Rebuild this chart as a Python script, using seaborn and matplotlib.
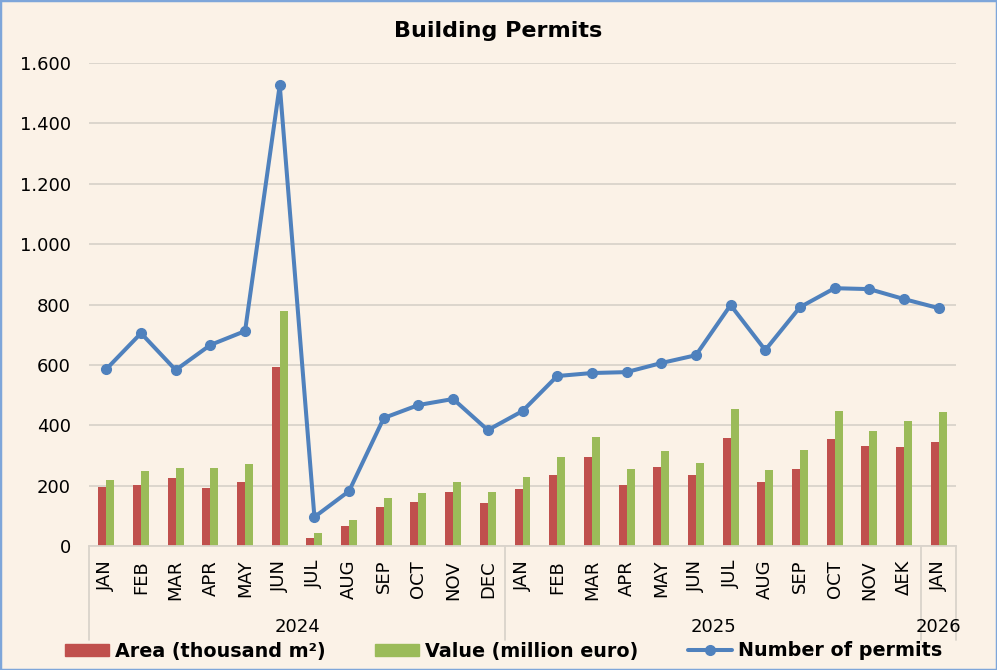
import numpy as np
import pandas as pd
import seaborn as sns
import matplotlib.pyplot as plt
from matplotlib.patches import Patch
from matplotlib.lines import Line2D
import matplotlib.transforms as mtransforms

months = ['JAN', 'FEB', 'MAR', 'APR', 'MAY', 'JUN', 'JUL', 'AUG', 'SEP', 'OCT', 'NOV', 'DEC',
          'JAN', 'FEB', 'MAR', 'APR', 'MAY', 'JUN', 'JUL', 'AUG', 'SEP', 'OCT', 'NOV', 'ΔΕΚ',
          'JAN']
years = ['2024'] * 12 + ['2025'] * 12 + ['2026']

area = [196, 202, 226, 193, 212, 594, 27, 67, 130, 146, 180, 143,
        189, 236, 296, 202, 263, 235, 358, 212, 256, 355, 332, 329, 344]
value = [218, 248, 259, 259, 272, 778, 44, 86, 160, 175, 212, 179,
         228, 296, 361, 256, 315, 275, 455, 252, 318, 448, 382, 415, 445]
permits = [586, 705, 583, 666, 712, 1527, 96, 182, 424, 467, 487, 384,
           447, 563, 573, 576, 606, 632, 798, 649, 791, 854, 851, 818, 788]

AREA_LABEL = 'Area (thousand m²)'
VALUE_LABEL = 'Value (million euro)'
LINE_LABEL = 'Number of permits'

BG = '#FBF2E7'
RED = '#C0504D'
GREEN = '#9BBB59'
BLUE = '#4F81BD'
GRID = '#D9D3CB'

keys = [f'{y}-{i:02d}-{m}' for i, (y, m) in enumerate(zip(years, months))]
df = pd.DataFrame({
    'period': keys * 2,
    'amount': area + value,
    'series': [AREA_LABEL] * len(keys) + [VALUE_LABEL] * len(keys),
})

sns.set_theme(style='white')
plt.rcParams['font.family'] = ['DejaVu Sans']
plt.rcParams['text.color'] = 'black'
plt.rcParams['xtick.color'] = 'black'
plt.rcParams['ytick.color'] = 'black'

fig = plt.figure(figsize=(9.97, 6.70), dpi=100, facecolor=BG)
ax = fig.add_axes([89 / 997, 1 - 546 / 670, (956 - 89) / 997, (546 - 63) / 670])
ax.set_facecolor(BG)

sns.barplot(data=df, x='period', y='amount', hue='series', order=keys,
            palette=[RED, GREEN], width=0.46, saturation=1, linewidth=0,
            ax=ax, legend=False)
ax.plot(np.arange(len(keys)), permits, color=BLUE, lw=2.9, marker='o', ms=7, zorder=5)

ax.set_xlim(-0.5, len(keys) - 0.5)
ax.set_ylim(0, 1600)
ax.set_yticks(np.arange(0, 1601, 200))
ax.set_yticklabels([f'{v:,}'.replace(',', '.') for v in range(0, 1601, 200)], fontsize=13)
ax.yaxis.grid(True, color=GRID, lw=1.3)
ax.set_axisbelow(True)
ax.tick_params(axis='y', length=0, pad=13)
ax.tick_params(axis='x', length=0, pad=10)
ax.set_xticks(np.arange(len(keys)))
ax.set_xticklabels(months, rotation=90, fontsize=13)
ax.set_xlabel('')
ax.set_ylabel('')
for side in ['left', 'right', 'top']:
    ax.spines[side].set_visible(False)
ax.spines['bottom'].set_color(GRID)
ax.spines['bottom'].set_linewidth(1.3)

# group separators and year labels below the axis
trans = mtransforms.blended_transform_factory(ax.transData, ax.transAxes)
depth = -(640 - 546) / (546 - 63)
for xs in [-0.5, 11.5, 23.5, 24.5]:
    ax.plot([xs, xs], [0, depth], color=GRID, lw=1.3, transform=trans, clip_on=False)
year_pos = {'2024': 5.5, '2025': 17.5, '2026': 24}
for yr, xp in year_pos.items():
    ax.text(xp, -(627 - 546) / (546 - 63), yr, transform=trans, ha='center', va='center',
            fontsize=13)

fig.text(0.5, 1 - 31 / 670, 'Building Permits', ha='center', va='center',
         fontsize=16, fontweight='bold')

handles = [Patch(color=RED), Patch(color=GREEN),
           Line2D([], [], color=BLUE, lw=2.9, marker='o', ms=7)]
fig.legend(handles, [AREA_LABEL, VALUE_LABEL, LINE_LABEL], loc='center',
           bbox_to_anchor=(0.505, 1 - 651 / 670), ncol=3, frameon=False,
           prop={'weight': 'bold', 'size': 13.8}, handlelength=2.3, handleheight=0.6,
           columnspacing=2.6, handletextpad=0.3)

fig.patches.append(plt.Rectangle((0, 0), 1, 1, transform=fig.transFigure, fill=False,
                                 edgecolor='#7EA6DA', lw=2.5))

fig.savefig('out.png', dpi=100, facecolor=BG)
